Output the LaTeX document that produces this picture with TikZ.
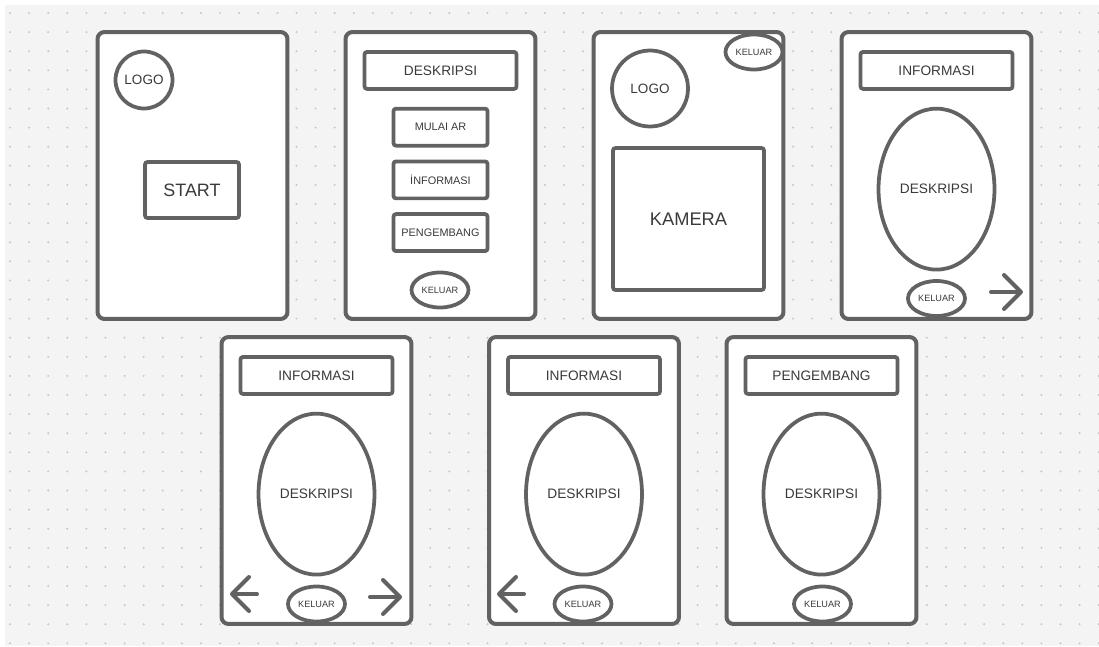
\documentclass[tikz,border=0pt]{standalone}
\usepackage{fontspec}
\setmainfont{Liberation Sans}
\usetikzlibrary{arrows.meta,positioning,shapes.geometric}
\definecolor{wire}{HTML}{626262}
\definecolor{ink}{HTML}{3A3A3A}
\definecolor{canvas}{HTML}{F4F4F4}
\definecolor{griddot}{HTML}{C6C6C6}
\tikzset{
  screen/.style={rectangle, rounded corners=0.14cm, draw=wire, line width=0.08cm, fill=white,
                 minimum width=3.8cm, minimum height=5.74cm},
  bar/.style={rectangle, rounded corners=0.05cm, draw=wire, line width=0.075cm, fill=white,
              minimum width=3.04cm, minimum height=0.74cm, inner sep=0pt,
              font=\fontsize{7.8}{9}\selectfont},
  btn/.style={rectangle, rounded corners=0.05cm, draw=wire, line width=0.075cm, fill=white,
              minimum width=1.88cm, minimum height=0.74cm, inner sep=0pt,
              font=\fontsize{6.2}{7}\selectfont},
  logo/.style={circle, draw=wire, line width=0.075cm, fill=white, inner sep=0pt,
               font=\fontsize{7.7}{9}\selectfont},
  oval/.style={ellipse, draw=wire, line width=0.075cm, fill=white, inner sep=0pt,
               minimum width=2.32cm, minimum height=3.22cm, font=\fontsize{7.8}{9}\selectfont},
  exit/.style={ellipse, draw=wire, line width=0.075cm, fill=white, inner sep=0pt,
                minimum width=1.14cm, minimum height=0.7cm, font=\fontsize{5.2}{6}\selectfont},
  nav/.style={-{Straight Barb[length=0.34cm, width=0.68cm, round]}, line width=0.08cm,
              line cap=round, draw=wire},
}

\begin{document}
\begin{tikzpicture}[x=0.02cm, y=-0.02cm, node distance=0.24cm, text=ink]
    % canvas with dot grid
    \useasboundingbox[fill=white] (0,0) rectangle (1099,646);
    \fill[canvas] (5,5) rectangle (1099,646);
    \foreach \i in {0,...,57}
      \foreach \j in {0,...,33}
        \fill[griddot] (10+\i*19.1, 13+\j*19.1) circle (0.022cm);

    % screens
    \node[screen] (s1) at (192.5,175.5) {};
    \node[screen] (s2) at (440.5,175.5) {};
    \node[screen] (s3) at (688.5,175.5) {};
    \node[screen] (s4) at (936.5,175.5) {};
    \node[screen] (s5) at (316.5,480.5) {};
    \node[screen] (s6) at (584,480.5) {};
    \node[screen] (s7) at (821.5,480.5) {};

    % 1 : start
    \node[logo, minimum size=1.14cm] (logo1) at (144,80) {LOGO};
    \node[btn, minimum width=1.88cm, minimum height=1.12cm, font=\fontsize{10.2}{12}\selectfont] (start) at (192,190) {START};

    % 2 : menu
    \node[bar, below=0.4cm of s2.north] (hdr2) {DESKRIPSI};
    \node[btn, below=0.32cm of hdr2] (mulai) {MULAI AR};
    \node[btn, below=of mulai] (info2) {İNFORMASI};
    \node[btn, below=of info2] (dev2) {PENGEMBANG};
    \node[exit] (kel2) at (440,290) {KELUAR};

    % 3 : kamera
    \node[logo, minimum size=1.52cm] (logo3) at (650,88.5) {LOGO};
    \node[btn, minimum width=3.02cm, minimum height=2.84cm, font=\fontsize{10.4}{12}\selectfont] (cam) at (688.5,219) {KAMERA};
    \node[exit] (kel3) at (754,52) {KELUAR};

    % 4 : informasi 1
    \node[bar, below=0.4cm of s4.north] (hdr4) {INFORMASI};
    \node[oval, below=0.32cm of hdr4] (desc4) {DESKRIPSI};
    \node[exit] (kel4) at (936.5,298.5) {KELUAR};
    \coordinate (nx4a) at (991,292);
    \coordinate (nx4b) at (1023,292);
    \draw[nav] (nx4a) -- (nx4b);

    % 5 : informasi 2
    \node[bar, below=0.4cm of s5.north] (hdr5) {INFORMASI};
    \node[oval, below=0.32cm of hdr5] (desc5) {DESKRIPSI};
    \node[exit] (kel5) at (316.5,604) {KELUAR};
    \coordinate (pv5a) at (257,594);
    \coordinate (pv5b) at (230,594);
    \coordinate (nx5a) at (370,597);
    \coordinate (nx5b) at (402,597);
    \draw[nav] (pv5a) -- (pv5b);
    \draw[nav] (nx5a) -- (nx5b);

    % 6 : informasi 3
    \node[bar, below=0.4cm of s6.north] (hdr6) {INFORMASI};
    \node[oval, below=0.32cm of hdr6] (desc6) {DESKRIPSI};
    \node[exit] (kel6) at (583,604) {KELUAR};
    \coordinate (pv6a) at (524,594);
    \coordinate (pv6b) at (497,594);
    \draw[nav] (pv6a) -- (pv6b);

    % 7 : pengembang
    \node[bar, below=0.4cm of s7.north] (hdr7) {PENGEMBANG};
    \node[oval, below=0.32cm of hdr7] (desc7) {DESKRIPSI};
    \node[exit] (kel7) at (822.5,604) {KELUAR};
  \end{tikzpicture}
\end{document}
